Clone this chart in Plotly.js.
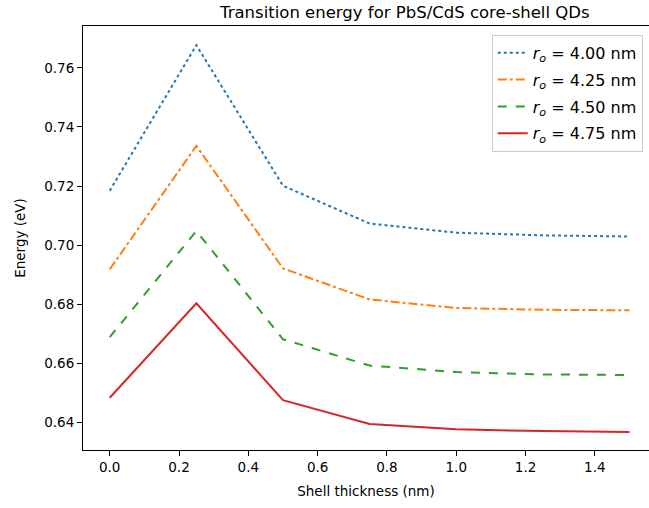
<!DOCTYPE html>
<html>
<head>
<meta charset="utf-8">
<script src="https://cdn.plot.ly/plotly-3.0.1.min.js"></script>
<style>
  html, body { margin: 0; padding: 0; background: #fff; }
  #chart { width: 649px; height: 508px; }
</style>
</head>
<body>
<div id="chart"></div>
<script>
// Shell thickness (nm)
const shellThickness = [0.0, 0.25, 0.5, 0.75, 1.0, 1.25, 1.5];

// Transition energy (eV) for each core radius r_o
const energyR400 = [0.7184, 0.7677, 0.7201, 0.7073, 0.7042, 0.7033, 0.7029];
const energyR425 = [0.6918, 0.7336, 0.6921, 0.6816, 0.6787, 0.6781, 0.6779];
const energyR450 = [0.6688, 0.7048, 0.6681, 0.6592, 0.6570, 0.6562, 0.6560];
const energyR475 = [0.6483, 0.6803, 0.6475, 0.6394, 0.6376, 0.6370, 0.6367];

const seriesNames = [
  '<i>r</i><sub><i>o</i></sub> = 4.00 nm',
  '<i>r</i><sub><i>o</i></sub> = 4.25 nm',
  '<i>r</i><sub><i>o</i></sub> = 4.50 nm',
  '<i>r</i><sub><i>o</i></sub> = 4.75 nm'
];
const seriesValues = [energyR400, energyR425, energyR450, energyR475];
const seriesColors = ['#1f77b4', '#ff7f0e', '#2ca02c', '#d62728'];
const seriesDash = ['dot', 'dashdot', 'dash', 'solid'];

const xTickVals = [0.0, 0.2, 0.4, 0.6, 0.8, 1.0, 1.2, 1.4];
const xTickText = ['0.0', '0.2', '0.4', '0.6', '0.8', '1.0', '1.2', '1.4'];
const yTickVals = [0.64, 0.66, 0.68, 0.70, 0.72, 0.74, 0.76];
const yTickText = ['0.64', '0.66', '0.68', '0.70', '0.72', '0.74', '0.76'];

// one legend group per curve so the entries get a little extra spacing
const traces = seriesValues.map((vals, i) => ({
  type: 'scatter',
  mode: 'lines',
  x: shellThickness,
  y: vals,
  name: seriesNames[i],
  legendgroup: 'g' + i,
  line: { color: seriesColors[i], width: 2, dash: seriesDash[i] }
}));

const font = { family: 'DejaVu Sans, sans-serif', size: 13.5, color: '#000' };

const layout = {
  width: 649,
  height: 508,
  margin: { l: 83, r: 0, t: 26, b: 58 },
  paper_bgcolor: '#fff',
  plot_bgcolor: '#fff',
  font: font,
  showlegend: true,
  title: {
    text: 'Transition energy for PbS/CdS core-shell QDs',
    font: { family: 'DejaVu Sans, sans-serif', size: 16.5, color: '#000' },
    x: 369 / 649,
    xanchor: 'center',
    xref: 'paper',
    y: 1 - 12 / 508,
    yanchor: 'middle'
  },
  xaxis: {
    range: [-0.0771, 1.5563],
    tickvals: xTickVals,
    ticktext: xTickText,
    ticks: 'outside',
    ticklen: 5,
    tickwidth: 1,
    tickcolor: '#000',
    showline: true,
    linecolor: '#000',
    linewidth: 1,
    mirror: true,
    showgrid: false,
    zeroline: false,
    tickfont: font,
    title: { text: 'Shell thickness (nm)', font: font, standoff: 12 }
  },
  yaxis: {
    range: [0.6306, 0.7742],
    tickvals: yTickVals,
    ticktext: yTickText,
    ticks: 'outside',
    ticklen: 5,
    tickwidth: 1,
    tickcolor: '#000',
    showline: true,
    linecolor: '#000',
    linewidth: 1,
    showgrid: false,
    zeroline: false,
    tickfont: font,
    title: { text: 'Energy (eV)', font: font, standoff: 15 }
  },
  legend: {
    x: 0.989,
    xanchor: 'right',
    y: 0.979,
    yanchor: 'top',
    traceorder: 'grouped',
    tracegroupgap: 3,
    itemwidth: 30,
    bgcolor: 'rgba(255,255,255,0.8)',
    bordercolor: '#cccccc',
    borderwidth: 1,
    font: { family: 'DejaVu Sans, sans-serif', size: 16, color: '#000' }
  }
};

Plotly.newPlot('chart', traces, layout, { displayModeBar: false, staticPlot: true });
</script>
</body>
</html>
